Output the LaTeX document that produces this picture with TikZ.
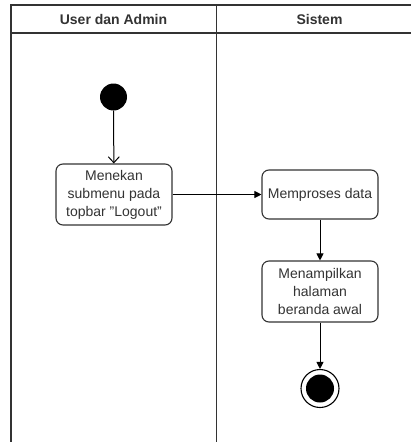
\documentclass[tikz,border=0pt]{standalone}
\usepackage{fontspec}
\setmainfont{Liberation Sans}
\usetikzlibrary{arrows.meta}
\definecolor{ln}{HTML}{333333}
\definecolor{tx}{HTML}{333333}
\begin{document}
\begin{tikzpicture}[x=1pt,y=-1pt,
  lane/.style={draw=ln,line width=1.3pt},
  act/.style={draw=ln,line width=1.1pt,rounded corners=7pt,fill=white,minimum width=116pt,align=center,text=tx,font=\fontsize{14}{18}\selectfont,inner sep=0pt},
  hdr/.style={font=\bfseries\fontsize{14}{17}\selectfont,text=tx},
  flow/.style={draw=black,line width=1pt,-{Triangle[length=7pt,width=7pt]}},
  openflow/.style={draw=black,line width=1pt,-{Straight Barb[length=6pt,width=11pt]}}]
\useasboundingbox (0,0) rectangle (411,442);
\fill[white] (0,0) rectangle (411,442);
\draw[lane] (11,442) -- (11,5) -- (411,5);
\draw[lane] (11,33) -- (411,33);
\draw[lane] (216.5,5) -- (216.5,442);
\node[hdr] (h1) at (113.5,19.5) {User dan Admin};
\node[hdr] (h2) at (319.5,19.5) {Sistem};
\node[circle,fill=black,minimum size=27pt,inner sep=0pt] (start) at (113.5,97) {};
\node[act,minimum height=61pt] (a1) at (114,194.5) {Menekan\\submenu pada\\topbar "Logout"};
\node[act,minimum height=49pt] (a2) at (320,194.5) {Memproses data};
\node[act,minimum height=61pt] (a3) at (320,291.5) {Menampilkan\\halaman\\beranda awal};
\node[circle,draw=black,line width=1.1pt,minimum size=38pt,inner sep=0pt] (end) at (320,388.5) {};
\node[circle,fill=black,minimum size=28pt,inner sep=0pt] (endin) at (320,388.5) {};
\draw[openflow] (start) -- (a1);
\draw[flow] (a1) -- (a2);
\draw[flow] (a2) -- (a3);
\draw[flow] (a3) -- (end);
\end{tikzpicture}
\end{document}
